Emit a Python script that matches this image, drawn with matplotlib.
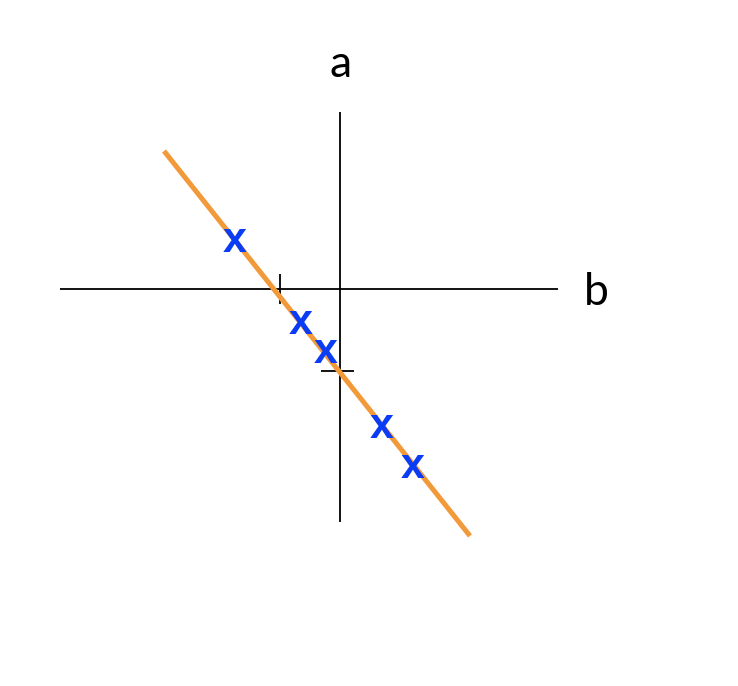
import matplotlib
matplotlib.use("Agg")
import matplotlib.pyplot as plt
from matplotlib.transforms import offset_copy

# data (units: x tick = -1, y tick = -1)
line_x = [-2.933, 2.167]
line_y = [1.683, -3.012]
pts_x = [-1.75, -0.65, -0.233, 0.70, 1.217]
pts_y = [0.585, -0.415, -0.768, -1.683, -2.171]
x_axis = [-4.667, 3.633]
y_axis = [-2.841, 2.159]
x_tick = -1.0
y_tick = -1.0
x_label = "b"
y_label = "a"

fig = plt.figure(figsize=(7.38, 6.86), dpi=100)
ax = fig.add_axes([0, 0, 1, 1])
ax.set_xlim(-340 / 60, 398 / 60)
ax.set_ylim(-397 / 82, 289 / 82)
ax.axis("off")

ax.plot(x_axis, [0, 0], color="black", lw=1.3, solid_capstyle="butt")
ax.plot([0, 0], y_axis, color="black", lw=1.3, solid_capstyle="butt")
ax.plot([x_tick, x_tick], [0.183, -0.183], color="black", lw=1.3, solid_capstyle="butt")
ax.plot([-0.317, 0.233], [y_tick, y_tick], color="black", lw=1.3, solid_capstyle="butt")

ax.plot(line_x, line_y, color="#F2993A", lw=3.6, solid_capstyle="butt", zorder=2)

tr = offset_copy(ax.transData, fig=fig, x=0, y=-8.0, units="points")
for x, y in zip(pts_x, pts_y):
    ax.text(x, y, "x", transform=tr, ha="center", va="baseline",
            fontsize=31, fontweight="bold", family="Liberation Sans",
            color="#0A3CF5", zorder=3)

ax.text(0.017, 2.585, y_label, ha="center", va="baseline", fontsize=32,
        family="Lato", fontweight="normal", color="black")
ax.text(4.275, -0.195, x_label, ha="center", va="baseline", fontsize=32,
        family="Lato", fontweight="normal", color="black")

fig.savefig("out.png", dpi=100)
